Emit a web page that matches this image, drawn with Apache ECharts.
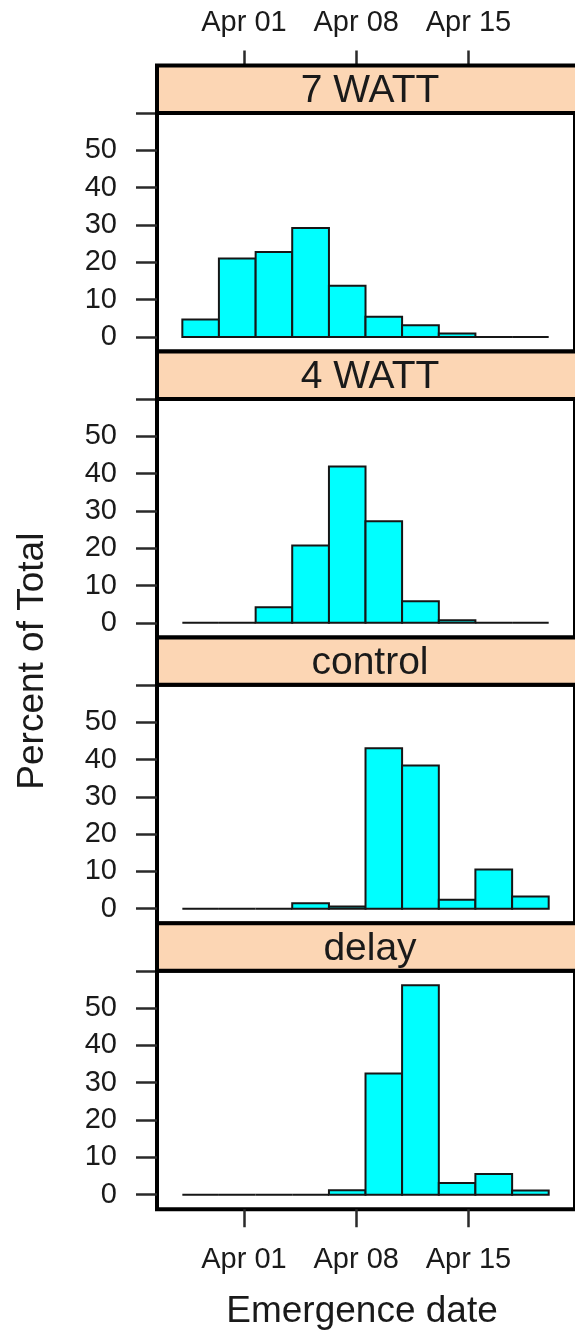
<!DOCTYPE html>
<html>
<head>
<meta charset="utf-8">
<title>Emergence date by treatment</title>
<script src="https://cdn.jsdelivr.net/npm/echarts@6/dist/echarts.min.js"></script>
<style>
  html, body { margin: 0; padding: 0; background: #ffffff; }
  #chart { width: 575px; height: 1338px; }
</style>
</head>
<body>
<div id="chart"></div>
<script>
// Treatment panels, top to bottom
const panelNames = ['7 WATT', '4 WATT', 'control', 'delay'];

// Histogram bin edges, in days counted from Apr 01
const binEdges = [-3.84, -1.56, 0.73, 3.01, 5.30, 7.58, 9.86, 12.15, 14.43, 16.72, 19.00];

// Percent of total emerging in each bin
const pct7Watt   = [4.7, 21.0, 22.8, 29.2, 13.7, 5.4, 3.1, 0.9, 0, 0];
const pct4Watt   = [0, 0, 4.2, 20.7, 41.9, 27.2, 5.8, 0.7, 0, 0];
const pctControl = [0, 0, 0, 1.5, 0.6, 43.0, 38.4, 2.4, 10.5, 3.3];
const pctDelay   = [0, 0, 0, 0, 1.2, 32.5, 56.1, 3.1, 5.5, 1.1];

// Axis ticks
const dateTickDays   = [0, 7, 14];
const dateTickLabels = ['Apr 01', 'Apr 08', 'Apr 15'];
const pctTicks       = [0, 10, 20, 30, 40, 50, 60];
const pctTickLabels  = [0, 10, 20, 30, 40, 50];

const panelValues = [pct7Watt, pct4Watt, pctControl, pctDelay];

// Layout (pixels)
const FONT = "'Liberation Sans', Arial, Helvetica, sans-serif";
const TEXT = '#1a1a1a';
const LEFT = 157, WIDTH = 430;
const TOP0 = 113, PITCH = 285.9, PLOT_H = 238.6, STRIP_H = 47.4;
const X_MIN = -5.42, X_MAX = 20.64;
const Y_MIN = -3.93, Y_MAX = 60.03;

const chart = echarts.init(document.getElementById('chart'), null, { renderer: 'canvas' });

function renderBin(params, api) {
  const a = api.coord([api.value(0), 0]);
  const b = api.coord([api.value(1), api.value(2)]);
  return {
    type: 'rect',
    shape: { x: a[0], y: b[1], width: b[0] - a[0], height: a[1] - b[1] },
    style: { fill: '#00FFFF', stroke: '#161616', lineWidth: 2 }
  };
}

const dateLabel = v => {
  const k = dateTickDays.indexOf(Math.round(v));
  return k >= 0 ? dateTickLabels[k] : '';
};

const tickStyle = { color: '#2a2a2a', width: 2.5 };

const grids = [], xAxes = [], yAxes = [], series = [], graphics = [];

panelNames.forEach((name, i) => {
  const top = TOP0 + PITCH * i;
  grids.push({
    left: LEFT, top: top, width: WIDTH, height: PLOT_H,
    show: true, backgroundColor: '#ffffff', borderColor: '#000000', borderWidth: 4,
    containLabel: false
  });
  const isBottom = i === panelNames.length - 1;
  xAxes.push({
    type: 'value', gridIndex: i, min: X_MIN, max: X_MAX, position: 'bottom',
    show: isBottom,
    axisLine: { show: false, onZero: false },
    splitLine: { show: false },
    axisTick: { show: true, inside: false, length: 18, customValues: dateTickDays, lineStyle: tickStyle },
    axisLabel: { show: true, customValues: dateTickDays, formatter: dateLabel, margin: 36,
                 fontFamily: FONT, fontSize: 29, color: TEXT }
  });
  yAxes.push({
    type: 'value', gridIndex: i, min: Y_MIN, max: Y_MAX, position: 'left',
    axisLine: { show: false, onZero: false },
    splitLine: { show: false },
    axisTick: { show: true, inside: false, length: 21, customValues: pctTicks, lineStyle: tickStyle },
    axisLabel: { show: true, customValues: pctTickLabels, margin: 40,
                 fontFamily: FONT, fontSize: 29, color: TEXT }
  });
  series.push({
    type: 'custom', xAxisIndex: i, yAxisIndex: i, renderItem: renderBin, clip: false,
    data: panelValues[i].map((v, k) => [binEdges[k], binEdges[k + 1], v])
  });
  // strip with the treatment name
  graphics.push({
    type: 'rect', z: 10,
    shape: { x: LEFT, y: top - STRIP_H, width: WIDTH, height: STRIP_H },
    style: { fill: '#FCD6B4', stroke: '#000000', lineWidth: 4 }
  });
  graphics.push({
    type: 'text', z: 11,
    x: LEFT + WIDTH / 2 - 2, y: top - STRIP_H / 2 + 2,
    style: { text: name, font: '39px ' + FONT, fill: TEXT, align: 'center', verticalAlign: 'middle' }
  });
});

// Date axis along the top, above the first strip
xAxes.push({
  type: 'value', gridIndex: 0, min: X_MIN, max: X_MAX, position: 'top', offset: STRIP_H,
  axisLine: { show: false, onZero: false },
  splitLine: { show: false },
  axisTick: { show: true, inside: false, length: 15, customValues: dateTickDays, lineStyle: tickStyle },
  axisLabel: { show: true, customValues: dateTickDays, formatter: dateLabel, margin: 28,
               fontFamily: FONT, fontSize: 29, color: TEXT }
});

// Axis titles
graphics.push({
  type: 'text', x: 33, y: TOP0 + (PITCH * 3 + PLOT_H) / 2, rotation: Math.PI / 2,
  style: { text: 'Percent of Total', font: '37px ' + FONT, fill: TEXT, align: 'center', verticalAlign: 'middle' }
});
graphics.push({
  type: 'text', x: 362, y: 1312,
  style: { text: 'Emergence date', font: '37px ' + FONT, fill: TEXT, align: 'center', verticalAlign: 'middle' }
});

chart.setOption({
  animation: false,
  backgroundColor: '#ffffff',
  grid: grids,
  xAxis: xAxes,
  yAxis: yAxes,
  series: series,
  graphic: graphics
});
</script>
</body>
</html>
